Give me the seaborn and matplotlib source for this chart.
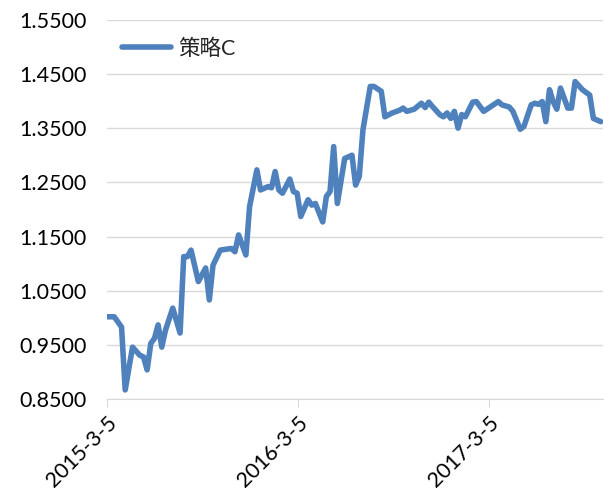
import numpy as np
import pandas as pd
import seaborn as sns
import matplotlib.pyplot as plt
import matplotlib.ticker as mticker

sns.set_style("white")
plt.rcParams['font.family'] = ['Lato', 'Noto Sans CJK SC', 'DejaVu Sans']

# week number counted from 2015-3-5, and the value of strategy C at that week
weeks = [0, 2, 4, 5, 7, 9, 10, 11, 12, 13, 14, 15, 16, 18, 20, 21, 22, 23, 25, 27,
         28, 29, 31, 34, 35, 36, 38, 39, 41, 42, 44, 45, 46, 47, 48, 50, 51, 52, 53, 55,
         56, 57, 59, 60, 61, 62, 63, 65, 67, 68, 69, 70, 72, 73, 75, 76, 78, 80, 81, 82,
         84, 86, 87, 88, 89, 91, 92, 93, 94, 95, 96, 97, 98, 100, 101, 103, 105, 107, 108, 110,
         111, 113, 114, 116, 117, 118, 119, 120, 121, 122, 123, 124, 126, 127, 128, 130, 132, 133, 135]
values = [1.002, 1.002, 0.983, 0.867, 0.946, 0.931, 0.928, 0.904, 0.953, 0.962,
          0.987, 0.946, 0.977, 1.018, 0.972, 1.113, 1.113, 1.125, 1.067, 1.092,
          1.033, 1.097, 1.125, 1.128, 1.122, 1.153, 1.116, 1.205, 1.273, 1.236,
          1.242, 1.240, 1.270, 1.236, 1.230, 1.256, 1.233, 1.230, 1.187, 1.218,
          1.208, 1.211, 1.177, 1.224, 1.233, 1.316, 1.211, 1.294, 1.300, 1.245,
          1.261, 1.347, 1.427, 1.427, 1.418, 1.371, 1.378, 1.383, 1.387, 1.381,
          1.385, 1.396, 1.388, 1.398, 1.390, 1.375, 1.371, 1.378, 1.368, 1.381,
          1.350, 1.375, 1.371, 1.398, 1.399, 1.381, 1.390, 1.399, 1.393, 1.389,
          1.381, 1.348, 1.353, 1.393, 1.396, 1.394, 1.399, 1.362, 1.421, 1.399,
          1.385, 1.424, 1.387, 1.387, 1.436, 1.421, 1.411, 1.368, 1.362]
tick_dates = ["2015-3-5", "2016-3-5", "2017-3-5"]
y_ticks = [0.85, 0.95, 1.05, 1.15, 1.25, 1.35, 1.45, 1.55]

start = pd.Timestamp("2015-03-05")
df = pd.DataFrame({"date": start + pd.to_timedelta(np.array(weeks) * 7, unit="D"),
                   "value": values, "name": "策略C"})

fig = plt.figure(figsize=(6.04, 4.94), dpi=100)
ax = fig.add_axes([0.177, 0.192, 0.821, 0.768])

sns.lineplot(data=df, x="date", y="value", hue="name", palette=["#4F81BD"],
             linewidth=4, ax=ax)

ax.set_ylim(0.85, 1.55)
ax.set_yticks(y_ticks)
ax.yaxis.set_major_formatter(mticker.FormatStrFormatter("%.4f"))
ax.grid(axis="y", color="#D9D9D9", linewidth=1)
ax.set_axisbelow(True)

ax.set_xlim(start, df["date"].iloc[-1] + pd.Timedelta(days=4))
ax.set_xticks([pd.Timestamp(d) for d in tick_dates])
ax.set_xticklabels(tick_dates, rotation=45, ha="right", rotation_mode="anchor")

for s in ["left", "right", "top"]:
    ax.spines[s].set_visible(False)
ax.spines["bottom"].set_color("#D9D9D9")
ax.tick_params(axis="x", bottom=True, length=6, color="#D9D9D9", labelsize=15.5, pad=4,
               labelcolor="black")
ax.tick_params(axis="y", left=False, labelsize=15.5, pad=11, labelcolor="black")
ax.set_xlabel("")
ax.set_ylabel("")

leg = ax.legend(loc="upper left", frameon=False, fontsize=15.5, handlelength=2.3,
                handletextpad=0.3, borderaxespad=0.3, bbox_to_anchor=(0.0, 0.99))
leg.set_title(None)

fig.savefig("out.png", dpi=100)
